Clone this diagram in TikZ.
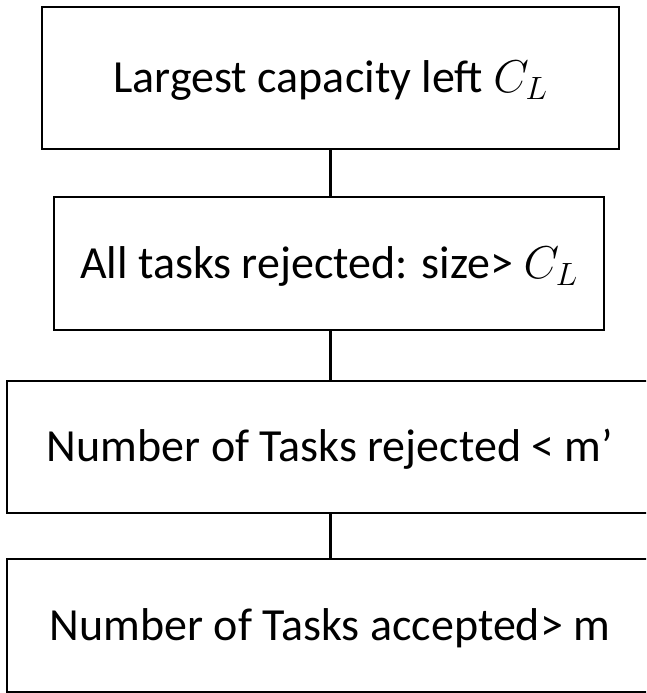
\documentclass[tikz,border=0pt]{standalone}
\usepackage{fix-cm}
\usepackage{fontspec}
\setmainfont{Carlito}
\begin{document}
\begin{tikzpicture}[x=1pt,y=1pt,
  box/.style={draw=black, line width=2pt, rectangle, inner sep=0pt,
    text height=30pt, text depth=0pt, align=center,
    font=\fontsize{46}{55}\selectfont},
  link/.style={draw=black, line width=3pt}]
\clip (0,0) rectangle (646,693);
\useasboundingbox (0,0) rectangle (646,693);
\node[box, minimum width=577pt, minimum height=142pt] (b1) at (330.5,615) {Largest capacity left $C_L$};
\node[box, minimum width=550pt, minimum height=133pt] (b2) at (329,429.5) {All tasks rejected: size> $C_L$};
\node[box, minimum width=646pt, minimum height=132pt] (b3) at (330,246) {Number of Tasks rejected < m’};
\node[box, minimum width=646pt, minimum height=133pt] (b4) at (330,67.5) {Number of Tasks accepted> m};
\draw[link] (b1.south -| b3.center) -- (b2.north -| b3.center);
\draw[link] (b2.south -| b3.center) -- (b3.north);
\draw[link] (b3.south) -- (b4.north);
\end{tikzpicture}
\end{document}
